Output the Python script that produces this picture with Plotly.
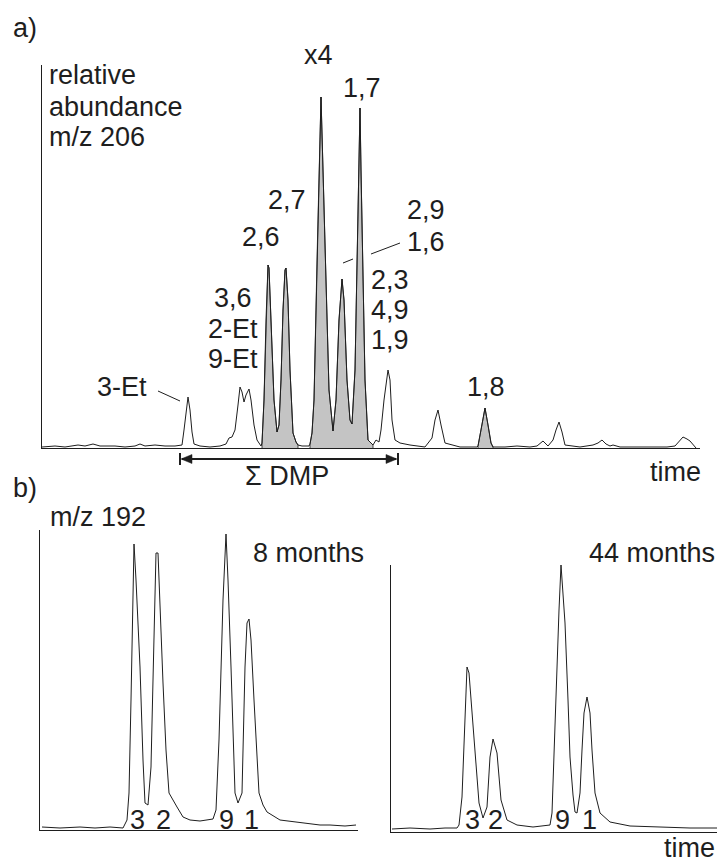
import plotly.graph_objects as go

# ---------------- data (arbitrary units) ----------------
# a) m/z 206 chromatogram: retention time (a.u.) and relative abundance (a.u.)
time_206 = [0, 13, 23, 36, 43, 51, 58, 73, 83, 93, 98, 103, 113, 123, 133, 140, 142, 144, 146, 148,
            150, 152, 158, 168, 178, 184, 187, 190, 193, 196, 198, 200, 202, 204, 207, 209, 212, 215, 219,
            220, 222, 224, 226, 227, 229, 232, 235, 237, 239, 241, 243, 244, 246, 248, 251, 254, 256,
            260, 264, 267,
            268, 270, 272, 275, 277, 279, 281, 284, 287, 291, 294, 297, 300, 302, 305, 308, 310, 313,
            315, 317, 318, 319, 321, 323, 326, 331,
            334, 337, 339, 342, 346, 348, 350, 353, 358, 368, 383, 390, 393, 396, 399, 403, 418, 435,
            436, 439, 443, 446, 449, 451,
            463, 475, 488, 495, 501, 506, 511, 514, 517, 520, 523, 538, 551, 556, 560, 564, 568, 571,
            578, 591, 608, 625, 633, 637, 641, 645, 648, 654]
abund_206 = [1, 2, 1, 3, 2, 4, 2, 2, 1, 2, 4, 2, 3, 2, 2, 3, 18, 38, 51, 38,
             16, 4, 2, 1, 2, 4, 10, 11, 18, 43, 61, 56, 46, 53, 59, 48, 23, 8, 2,
             5, 48, 128, 183, 180, 118, 48, 16, 23, 68, 138, 178, 180, 148, 78, 15, 6, 3,
             2, 2, 2,
             4, 15, 48, 188, 278, 351, 278, 168, 58, 17, 48, 128, 169, 148, 68, 28, 24, 78,
             178, 278, 340, 278, 168, 68, 8, 3,
             8, 6, 18, 48, 78, 68, 28, 8, 5, 3, 1, 10, 28, 38, 23, 5, 1, 1,
             2, 18, 40, 23, 5, 1,
             1, 2, 1, 2, 7, 2, 8, 18, 26, 16, 3, 1, 3, 5, 8, 4, 2, 3,
             1, 1, 1, 1, 2, 7, 11, 9, 7, 0]
# shaded (dimethylphenanthrene) retention windows
shaded_windows = [(220, 256), (268, 331), (436, 451)]

# b) m/z 192 chromatograms, 8 months
time_8m = [2, 20, 40, 55, 70, 83, 87, 89, 91, 93, 94, 96, 100, 103, 105, 108, 111, 113, 115, 116, 118,
           120, 123, 126, 129, 137, 143, 150, 160, 173, 176, 179, 181, 183, 186, 188, 191, 193, 195,
           198, 202, 205, 207, 209, 211, 214, 217, 219, 223, 227, 240, 255, 267, 280, 290, 305, 316]
abund_8m = [3, 2, 3, 2, 3, 2, 10, 37, 130, 230, 286, 250, 163, 70, 27, 25, 63, 150, 230, 277, 277,
            220, 147, 80, 37, 23, 13, 10, 9, 11, 20, 90, 163, 230, 296, 250, 163, 90, 37,
            27, 37, 163, 207, 211, 190, 130, 70, 37, 25, 18, 10, 8, 7, 5, 5, 4, 5]

# b) m/z 192 chromatograms, 44 months
time_44m = [1, 19, 39, 54, 66, 68, 71, 73, 76, 78, 80, 82, 85, 88, 92, 96, 99, 102, 106, 108, 110, 116,
            126, 142, 152, 159, 161, 164, 166, 168, 170, 172, 174, 177, 179, 182, 184, 186, 189, 191,
            193, 196, 199, 201, 204, 209, 219, 239, 272, 299, 326]
abund_44m = [3, 4, 3, 4, 4, 7, 35, 92, 165, 159, 132, 109, 62, 29, 14, 25, 75, 93, 79, 52, 32, 12,
             7, 5, 6, 7, 19, 112, 159, 222, 267, 242, 209, 132, 75, 37, 20, 19, 39, 82,
             119, 135, 119, 82, 39, 19, 10, 6, 5, 4, 4]

# peak labels
labels_206 = ["x4", "1,7", "2,7", "2,6", "2,9", "1,6", "2,3", "4,9", "1,9",
              "3,6", "2-Et", "9-Et", "3-Et", "1,8"]
labels_192 = ["3", "2", "9", "1"]

# ---------------- layout helpers (pixel -> paper) ----------------
W, H = 720, 862
def px(x):
    return x / W
def py(y):
    return (H - y) / H

FONT = "Liberation Sans, Arial, Helvetica, sans-serif"
INK = "#1e1e1e"
GREY = "#c4c4c4"
FS = 27

fig = go.Figure()

# shaded areas (a)
for (t0, t1) in shaded_windows:
    xs = [t for t in time_206 if t0 <= t <= t1]
    ys = [a for t, a in zip(time_206, abund_206) if t0 <= t <= t1]
    xs = [xs[0]] + xs + [xs[-1]]
    ys = [0] + ys + [0]
    fig.add_trace(go.Scatter(x=xs, y=ys, mode="lines", fill="toself", fillcolor=GREY,
                             line=dict(color=INK, width=0.8), xaxis="x", yaxis="y",
                             hoverinfo="skip", showlegend=False))

fig.add_trace(go.Scatter(x=time_206, y=abund_206, mode="lines", line=dict(color=INK, width=1),
                         xaxis="x", yaxis="y", showlegend=False))
fig.add_trace(go.Scatter(x=time_8m, y=abund_8m, mode="lines", line=dict(color=INK, width=1),
                         xaxis="x2", yaxis="y2", showlegend=False))
fig.add_trace(go.Scatter(x=time_44m, y=abund_44m, mode="lines", line=dict(color=INK, width=1),
                         xaxis="x3", yaxis="y3", showlegend=False))

ax_common = dict(showgrid=False, zeroline=False, showticklabels=False, ticks="",
                 showline=True, linecolor=INK, linewidth=1, fixedrange=True)

fig.update_layout(
    width=W, height=H, autosize=False,
    margin=dict(l=0, r=0, t=0, b=0),
    paper_bgcolor="white", plot_bgcolor="rgba(0,0,0,0)",
    showlegend=False,
    font=dict(family=FONT, size=FS, color=INK),
    xaxis=dict(domain=[px(42), px(700)], range=[0, 658], anchor="y", **ax_common),
    yaxis=dict(domain=[py(448), py(65)], range=[0, 383], anchor="x", **ax_common),
    xaxis2=dict(domain=[px(40), px(358)], range=[0, 318], anchor="y2", **ax_common),
    yaxis2=dict(domain=[py(830), py(530)], range=[0, 300], anchor="x2", **ax_common),
    xaxis3=dict(domain=[px(391), px(717)], range=[0, 326], anchor="y3", **ax_common),
    yaxis3=dict(domain=[py(832), py(565)], range=[0, 267], anchor="x3", **ax_common),
)

def text(s, x, y, xanchor="center", size=FS):
    fig.add_annotation(text=s, x=px(x), y=py(y), xref="paper", yref="paper",
                       xanchor=xanchor, yanchor="middle", showarrow=False, borderpad=0,
                       font=dict(family=FONT, size=size, color=INK))

# panel a texts
text("a)", 12, 28, "left")
text("relative", 48, 75, "left")
text("abundance", 48, 107, "left")
text("m/z 206", 48, 137, "left")
pos_206 = [(318, 55), (362, 88), (287, 200), (261, 237), (426, 210), (426, 242),
           (390, 280), (390, 310), (390, 340), (233, 298), (233, 329), (233, 359),
           (122, 387), (486, 387)]
for s, (x, y) in zip(labels_206, pos_206):
    text(s, x, y)
text("time", 675, 472)
text("\u03a3 DMP", 287, 476)

# panel b texts
text("b)", 12, 488, "left")
text("m/z 192", 49, 517, "left")
text("8 months", 308, 553)
text("44 months", 652, 553)
text("time", 689, 848)
for s, x in zip(labels_192, [137, 163, 226, 252]):
    text(s, x, 820)
for s, x in zip(labels_192, [472, 495, 562, 589]):
    text(s, x, 820)

# leader lines
def seg(x0, y0, x1, y1, w=1):
    fig.add_shape(type="line", xref="paper", yref="paper", x0=px(x0), y0=py(y0),
                  x1=px(x1), y1=py(y1), line=dict(color=INK, width=w))
seg(158, 391, 180, 401)
seg(343, 263, 353, 259)
seg(371, 254, 400, 243)

# Sigma DMP double arrow
seg(182, 459, 396, 459, 2)
seg(180, 453, 180, 465, 2)
seg(398, 453, 398, 465, 2)
def tri(xt, xb, yc, h=4.5):
    path = f"M {px(xt)} {py(yc)} L {px(xb)} {py(yc - h)} L {px(xb)} {py(yc + h)} Z"
    fig.add_shape(type="path", xref="paper", yref="paper", path=path,
                  fillcolor=INK, line=dict(color=INK, width=0.5))
tri(181, 192, 459)
tri(397, 386, 459)

fig.write_html("out.html")
